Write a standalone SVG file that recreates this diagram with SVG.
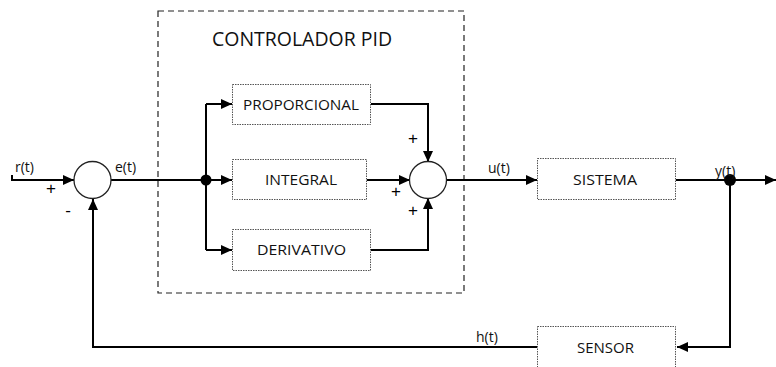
<svg xmlns="http://www.w3.org/2000/svg" width="776" height="367" viewBox="0 0 776 367">
<style>
.blk{fill:#fff;stroke:#555;stroke-width:1;stroke-dasharray:1.5 1}
.ln{fill:none;stroke:#000;stroke-width:2}
.sum{fill:#fff;stroke:#222;stroke-width:1.3}
.t{font-family:"Open Sans","Liberation Sans",sans-serif;fill:#111}
.lbl{font-size:15px;text-anchor:middle}
.sig{font-size:14px}
.pm{font-family:"Liberation Sans",sans-serif;font-size:17px;fill:#000;text-anchor:middle}
</style>
<defs>
<marker id="ah" markerWidth="11" markerHeight="10" refX="11" refY="5" orient="auto" markerUnits="userSpaceOnUse">
<path d="M0,0 L11,5 L0,10 Z" fill="#000"/>
</marker>
</defs>
<rect width="776" height="367" fill="#fff"/>
<g id="pid-frame">
<rect x="158" y="11" width="306" height="282" fill="none" stroke="#222" stroke-width="1.2" stroke-dasharray="6 4"/>
<text class="t" x="302" y="46" font-size="20" text-anchor="middle" textLength="180" lengthAdjust="spacingAndGlyphs">CONTROLADOR PID</text>
</g>
<g id="connectors">
<path class="ln" d="M12,175 V180 H74" marker-end="url(#ah)"/>
<path class="ln" d="M111,180 H206"/>
<path class="ln" d="M206,104 V250"/>
<path class="ln" d="M206,104 H232" marker-end="url(#ah)"/>
<path class="ln" d="M206,180 H232" marker-end="url(#ah)"/>
<path class="ln" d="M206,250 H232" marker-end="url(#ah)"/>
<path class="ln" d="M371,104 H428 V162" marker-end="url(#ah)"/>
<path class="ln" d="M367,180 H410" marker-end="url(#ah)"/>
<path class="ln" d="M371,250 H428 V198" marker-end="url(#ah)"/>
<path class="ln" d="M446,180 H537" marker-end="url(#ah)"/>
<path class="ln" d="M676,180 H776" marker-end="url(#ah)"/>
<path class="ln" d="M730,180 V347 H677" marker-end="url(#ah)"/>
<path class="ln" d="M537,347 H93 V199" marker-end="url(#ah)"/>
<circle cx="206" cy="180" r="5.5" fill="#000"/>
<circle cx="730" cy="180" r="6" fill="#000"/>
</g>
<g id="sum1">
<circle class="sum" cx="92.5" cy="180" r="18.5"/>
<text class="pm" x="51" y="194">+</text>
<text class="pm" x="68" y="216">-</text>
</g>
<g id="sum2">
<circle class="sum" cx="428" cy="180" r="18.5"/>
<text class="pm" x="413" y="144">+</text>
<text class="pm" x="396" y="197">+</text>
<text class="pm" x="413" y="216">+</text>
</g>
<g id="proporcional">
<rect class="blk" x="232.5" y="84.5" width="138" height="40"/>
<text class="t lbl" x="301" y="110" textLength="116" lengthAdjust="spacingAndGlyphs">PROPORCIONAL</text>
</g>
<g id="integral">
<rect class="blk" x="232.5" y="159.5" width="134" height="40"/>
<text class="t lbl" x="301" y="185" textLength="72" lengthAdjust="spacingAndGlyphs">INTEGRAL</text>
</g>
<g id="derivativo">
<rect class="blk" x="232.5" y="229.5" width="138" height="41"/>
<text class="t lbl" x="301.5" y="255" textLength="89" lengthAdjust="spacingAndGlyphs">DERIVATIVO</text>
</g>
<g id="sistema">
<rect class="blk" x="537.5" y="158.5" width="138" height="41"/>
<text class="t lbl" x="605" y="185" textLength="64" lengthAdjust="spacingAndGlyphs">SISTEMA</text>
</g>
<g id="sensor">
<rect class="blk" x="537.5" y="326.5" width="138" height="45"/>
<text class="t lbl" x="605.5" y="353" textLength="57" lengthAdjust="spacingAndGlyphs">SENSOR</text>
</g>
<g id="signals">
<text class="t sig" x="15" y="172">r(t)</text>
<text class="t sig" x="115" y="172">e(t)</text>
<text class="t sig" x="488" y="173">u(t)</text>
<text class="t sig" x="715" y="176">y(t)</text>
<text class="t sig" x="476" y="342">h(t)</text>
</g>
</svg>
